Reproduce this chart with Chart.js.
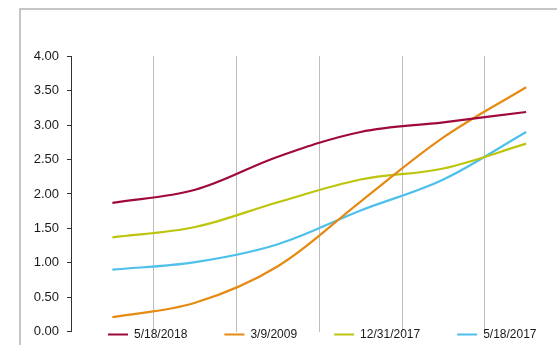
<!DOCTYPE html>
<html>
<head>
<meta charset="utf-8">
<script src="https://cdn.jsdelivr.net/npm/chart.js@4/dist/chart.umd.min.js"></script>
<style>
  html, body { margin: 0; padding: 0; background: #fff; overflow: hidden; width: 557px; height: 345px; }
  #wrap { position: relative; width: 557px; height: 345px; overflow: hidden; }
  #frame { position: absolute; left: 19px; top: 8px; width: 700px; height: 500px;
           border-top: 2px solid #c6c6c6; border-left: 2px solid #c6c6c6; }
  #c { position: absolute; left: 0; top: 0; }
</style>
</head>
<body>
<div id="wrap">
  <div id="frame"></div>
  <canvas id="c" width="572" height="345"></canvas>
</div>
<script>
// Data
const categories = ['P1', 'P2', 'P3', 'P4', 'P5', 'P6'];
const seriesNames = ['5/18/2018', '3/9/2009', '12/31/2017', '5/18/2017'];
const s20180518 = [1.87, 2.06, 2.54, 2.90, 3.04, 3.19];
const s20090309 = [0.21, 0.42, 0.95, 1.89, 2.82, 3.55];
const s20171231 = [1.37, 1.52, 1.88, 2.21, 2.37, 2.73];
const s20170518 = [0.90, 1.01, 1.27, 1.76, 2.21, 2.90];
const yTicks = [0, 0.5, 1, 1.5, 2, 2.5, 3, 3.5, 4];

const colors = ['#A0093B', '#E68A12', '#BDC40C', '#4EC0EC'];
const seriesValues = [s20180518, s20090309, s20171231, s20170518];

const legendMover = {
  id: 'legendMover',
  afterLayout(chart) {
    const lg = chart.legend;
    const pad = lg.options.labels.padding;
    lg.left = 108 - pad;
    lg.right = chart.width + 400;
    lg.top = 334.5 - pad - 6;
    lg.bottom = lg.top + 2 * pad + 12;
    lg.width = lg.right - lg.left;
    lg.height = lg.bottom - lg.top;
  }
};

new Chart(document.getElementById('c'), {
  type: 'line',
  data: {
    labels: categories,
    datasets: seriesNames.map((name, i) => ({
      label: name,
      data: seriesValues[i],
      borderColor: colors[i],
      backgroundColor: colors[i],
      borderWidth: 2.2,
      pointRadius: 0,
      tension: 0.35,
      fill: false
    }))
  },
  options: {
    responsive: false,
    devicePixelRatio: 1,
    animation: false,
    events: [],
    layout: { padding: { left: 0, right: 4.5, top: 56.2, bottom: 1 } },
    plugins: {
      tooltip: { enabled: false },
      legend: {
        position: 'bottom',
        align: 'start',
        maxHeight: 1,
        labels: {
          boxWidth: 20,
          boxHeight: 2,
          padding: 37,
          color: '#1a1a1a',
          font: { family: 'Liberation Sans, Arial, sans-serif', size: 12 },
          generateLabels(chart) {
            const items = Chart.defaults.plugins.legend.labels.generateLabels(chart);
            items.forEach(it => { it.fillStyle = it.strokeStyle; it.lineWidth = 0; });
            return items;
          }
        }
      }
    },
    scales: {
      x: {
        offset: true,
        grid: { offset: true, color: '#bdbdbd', lineWidth: 1, drawTicks: false },
        border: { display: false },
        ticks: { display: false }
      },
      y: {
        min: 0,
        max: 4,
        afterFit(scale) { scale.width = 71; },
        afterBuildTicks(scale) { scale.ticks = yTicks.map(v => ({ value: v })); },
        grid: { drawOnChartArea: false, drawTicks: true, tickLength: 4, color: '#333', lineWidth: 1 },
        border: { display: true, color: '#333', width: 1 },
        ticks: {
          padding: 8,
          color: '#1a1a1a',
          font: { family: 'Liberation Sans, Arial, sans-serif', size: 13, lineHeight: 0.82 },
          callback: v => Number(v).toFixed(2)
        }
      }
    }
  },
  plugins: [legendMover]
});
</script>
</body>
</html>
